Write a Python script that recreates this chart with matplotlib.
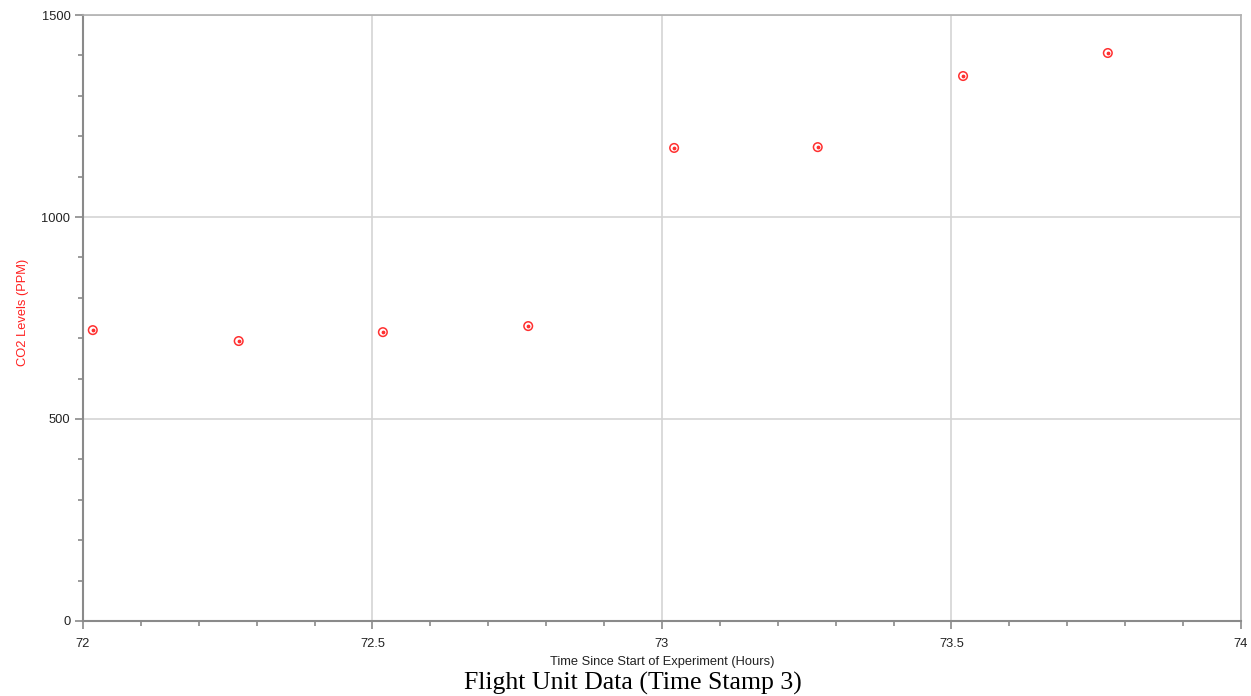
import numpy as np
import matplotlib.pyplot as plt
from matplotlib.ticker import MultipleLocator

# DATA
hours = [72.017, 72.269, 72.518, 72.769, 73.021, 73.269, 73.520, 73.770]
co2_ppm = [720, 693, 715, 730, 1171, 1173, 1349, 1406]

plt.rcParams['font.family'] = ['Liberation Sans', 'DejaVu Sans']

fig = plt.figure(figsize=(12.51, 6.96), dpi=100)
ax = fig.add_axes([0.0663, 0.1078, 0.9257, 0.8706])

# open red circles with a dot in the middle
ax.scatter(hours, co2_ppm, s=38, facecolors='none', edgecolors='#ff3030',
           linewidths=1.1, zorder=3)
ax.scatter(hours, co2_ppm, s=3, color='#ff3030', zorder=4)

ax.set_xlim(72, 74)
ax.set_ylim(0, 1500)
ax.xaxis.set_major_locator(MultipleLocator(0.5))
ax.xaxis.set_minor_locator(MultipleLocator(0.1))
ax.yaxis.set_major_locator(MultipleLocator(500))
ax.yaxis.set_minor_locator(MultipleLocator(100))
ax.xaxis.set_major_formatter(plt.FuncFormatter(lambda v, p: f"{v:g}"))

ax.grid(True, which='major', color='#d4d4d4', linewidth=1.2)
ax.set_axisbelow(True)

for side in ['left', 'bottom']:
    ax.spines[side].set_color('#8a8a8a')
    ax.spines[side].set_linewidth(1.5)
for side in ['top', 'right']:
    ax.spines[side].set_color('#b0b0b0')
    ax.spines[side].set_linewidth(1.2)

ax.tick_params(axis='both', which='major', length=6, width=1.2, color='#8a8a8a',
               labelsize=9.3, labelcolor='#222222')
ax.tick_params(axis='both', which='minor', length=3.5, width=1.2, color='#8a8a8a')
ax.tick_params(axis='x', which='major', pad=6)
ax.tick_params(axis='y', which='major', pad=3)

ax.set_ylabel("CO2 Levels (PPM)", color='#ff2020', fontsize=9.3)
ax.yaxis.set_label_coords(-0.0466, 0.51)
ax.set_xlabel("Time Since Start of Experiment (Hours)", fontsize=9.3,
              color='#222222')
ax.xaxis.set_label_coords(0.5, -0.0584)

fig.text(0.506, 0.009, "Flight Unit Data (Time Stamp 3)", ha='center',
         va='baseline', fontsize=18.5, family=['Liberation Serif', 'DejaVu Serif'])

fig.savefig("out.png", dpi=100)
